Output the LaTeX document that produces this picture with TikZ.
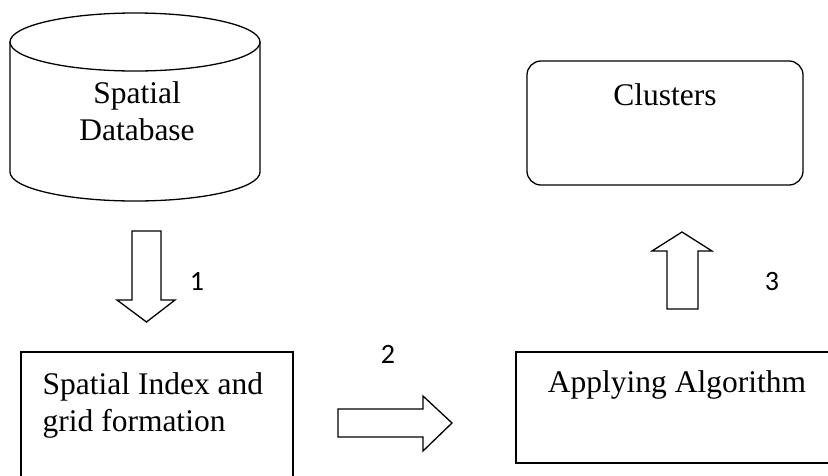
\documentclass[tikz,border=0pt]{standalone}
\usepackage{fontspec}
\setmainfont{Liberation Serif}
\newfontfamily\numfont{Carlito}

\begin{document}
\begin{tikzpicture}[x=1pt,y=-1pt,line width=1.3pt,
  txt/.style={inner sep=0pt,font=\fontsize{31.5}{37}\selectfont},
  num/.style={inner sep=0pt,anchor=base,font=\numfont\fontsize{28}{34}\selectfont}]
\useasboundingbox (0,0) rectangle (828,475);

\draw (135,42) ellipse [x radius=125, y radius=29];
\draw (10,42) -- (10,172) arc[start angle=180, end angle=0, x radius=125, y radius=29] -- (260,42);
\node[txt,anchor=base,align=center] (db) at (137,140) {Spatial\\Database};

\draw (132,231) -- (132,300) -- (117,300) -- (146.5,322) -- (175,300) -- (161,300) -- (161,231) -- cycle;
\node[num] (n1) at (197,290) {1};

\node[draw,minimum width=272pt,minimum height=160pt,inner sep=0pt] (index) at (157,432) {};
\node[txt,anchor=base west,align=left] (indextxt) at (42,431) {Spatial Index and\\grid formation};

\draw (338,409) -- (423,409) -- (423,396) -- (452,423) -- (423,451) -- (423,437) -- (338,437) -- cycle;
\node[num] (n2) at (388,363) {2};

\node[draw,minimum width=324pt,minimum height=111pt,inner sep=0pt] (algo) at (678,407.5) {};
\node[txt,anchor=base] (algotxt) at (677,392) {Applying Algorithm};

\draw (667,309) -- (667,251) -- (652,251) -- (682,232) -- (712,251) -- (698,251) -- (698,309) -- cycle;
\node[num] (n3) at (772,290) {3};

\node[draw,rounded corners=14pt,minimum width=276pt,minimum height=124pt,inner sep=0pt] (clusters) at (665,123) {};
\node[txt,anchor=base] (clusterstxt) at (665,105) {Clusters};
\end{tikzpicture}
\end{document}
